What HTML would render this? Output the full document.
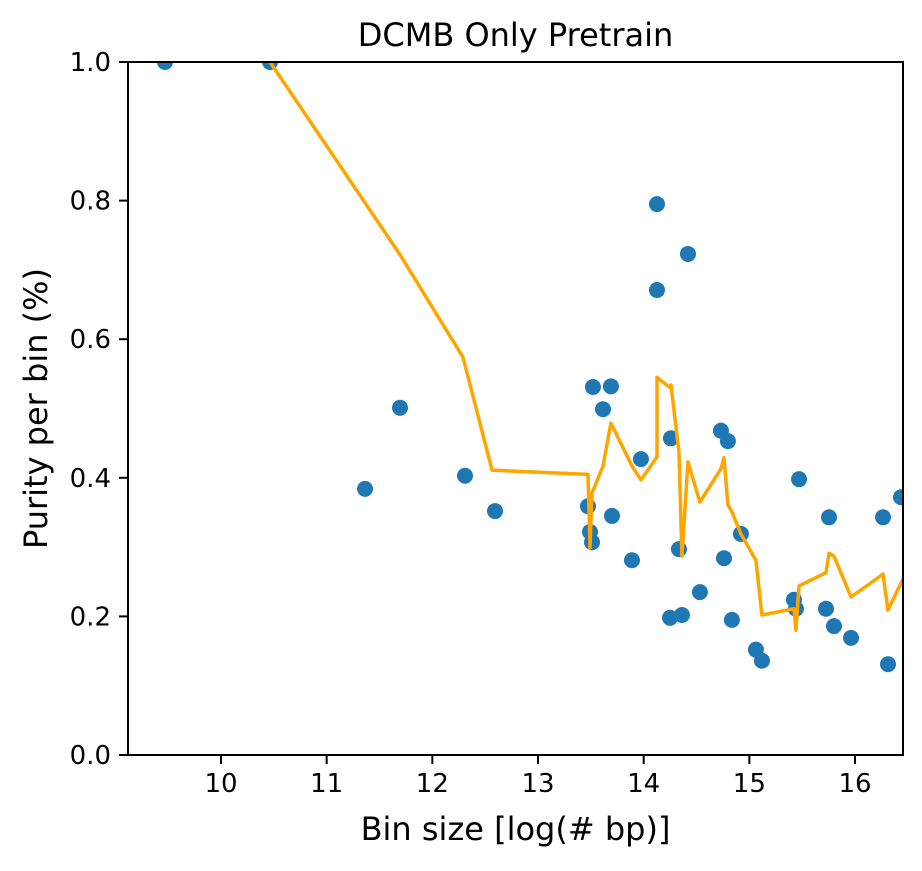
<!DOCTYPE html>
<html><head><meta charset="utf-8"><style>
body{margin:0;background:#fff;font-family:"DejaVu Sans","Liberation Sans",sans-serif}
</style></head><body>
<svg width="922" height="867" xmlns="http://www.w3.org/2000/svg" font-family="DejaVu Sans, Liberation Sans, sans-serif">
<g id="root"></g>
</svg>
<script>
const ptX=[9.470,10.464,11.363,11.694,12.309,12.593,13.473,13.492,13.511,13.520,13.615,13.690,13.700,13.889,13.974,14.126,14.126,14.249,14.258,14.334,14.362,14.419,14.532,14.731,14.760,14.797,14.835,14.920,15.062,15.119,15.422,15.441,15.470,15.725,15.754,15.801,15.962,16.265,16.312,16.435];
const ptY=[1.0,1.0,0.384,0.501,0.403,0.352,0.359,0.322,0.307,0.531,0.499,0.532,0.345,0.281,0.427,0.795,0.671,0.198,0.457,0.297,0.202,0.723,0.235,0.468,0.284,0.453,0.195,0.319,0.152,0.136,0.224,0.211,0.398,0.211,0.343,0.186,0.169,0.343,0.131,0.372];
const lnX=[10.464,11.694,12.290,12.565,13.473,13.492,13.511,13.615,13.690,13.889,13.974,14.126,14.126,14.249,14.258,14.334,14.362,14.419,14.532,14.731,14.760,14.797,14.835,14.920,15.062,15.119,15.422,15.441,15.470,15.725,15.754,15.801,15.962,16.265,16.312,16.454];
const lnY=[1.0,0.722,0.574,0.411,0.405,0.299,0.378,0.417,0.479,0.417,0.397,0.430,0.545,0.530,0.534,0.437,0.287,0.423,0.365,0.413,0.429,0.361,0.351,0.319,0.281,0.202,0.211,0.180,0.244,0.263,0.291,0.287,0.228,0.261,0.209,0.254];
const xTicks=[10,11,12,13,14,15,16];
const yTicks=[0,0.2,0.4,0.6,0.8,1.0];
const L=128,R=903,T=62,B=755,x0=9.12,x1=16.454;
const sx=v=>L+(v-x0)/(x1-x0)*(R-L), sy=v=>B-v*(B-T);
const NS="http://www.w3.org/2000/svg", root=document.getElementById('root');
function mk(t,a,p){const e=document.createElementNS(NS,t);for(const k in a)e.setAttribute(k,a[k]);(p||root).appendChild(e);return e;}
const clip=mk('clipPath',{id:'c'});mk('rect',{x:L,y:T,width:R-L,height:B-T},clip);
const pts=mk('g',{'clip-path':'url(#c)'});


ptX.forEach((v,i)=>{const c=mk('circle',{cx:sx(v),cy:sy(ptY[i]),r:8,fill:'#1f77b4'},pts);

});
const line=mk('polyline',{points:lnX.map((v,i)=>sx(v)+','+sy(lnY[i])).join(' '),fill:'none',stroke:'#ffa500','stroke-width':3.5,'stroke-linejoin':'round','clip-path':'url(#c)'});


const fr=mk('rect',{x:L,y:T,width:R-L,height:B-T,fill:'none',stroke:'#000','stroke-width':2});


xTicks.forEach(v=>{const x=sx(v);mk('line',{x1:x,x2:x,y1:B,y2:B+9,stroke:'#000','stroke-width':2});
const t=mk('text',{x:x,y:B+37,'text-anchor':'middle','font-size':26});t.textContent=v;

});
yTicks.forEach(v=>{const y=sy(v);mk('line',{x1:L-9,x2:L,y1:y,y2:y,stroke:'#000','stroke-width':2});
const t=mk('text',{x:L-17,y:y+9,'text-anchor':'end','font-size':26});t.textContent=v.toFixed(1);

});
let t=mk('text',{x:(L+R)/2,y:46,'text-anchor':'middle','font-size':32});t.textContent='DCMB Only Pretrain';


t=mk('text',{x:(L+R)/2,y:840,'text-anchor':'middle','font-size':32});t.textContent='Bin size [log(# bp)]';


t=mk('text',{x:0,y:0,'text-anchor':'middle','font-size':32,transform:'translate(47,'+((T+B)/2)+') rotate(-90)'});t.textContent='Purity per bin (%)';


</script>
</body></html>
